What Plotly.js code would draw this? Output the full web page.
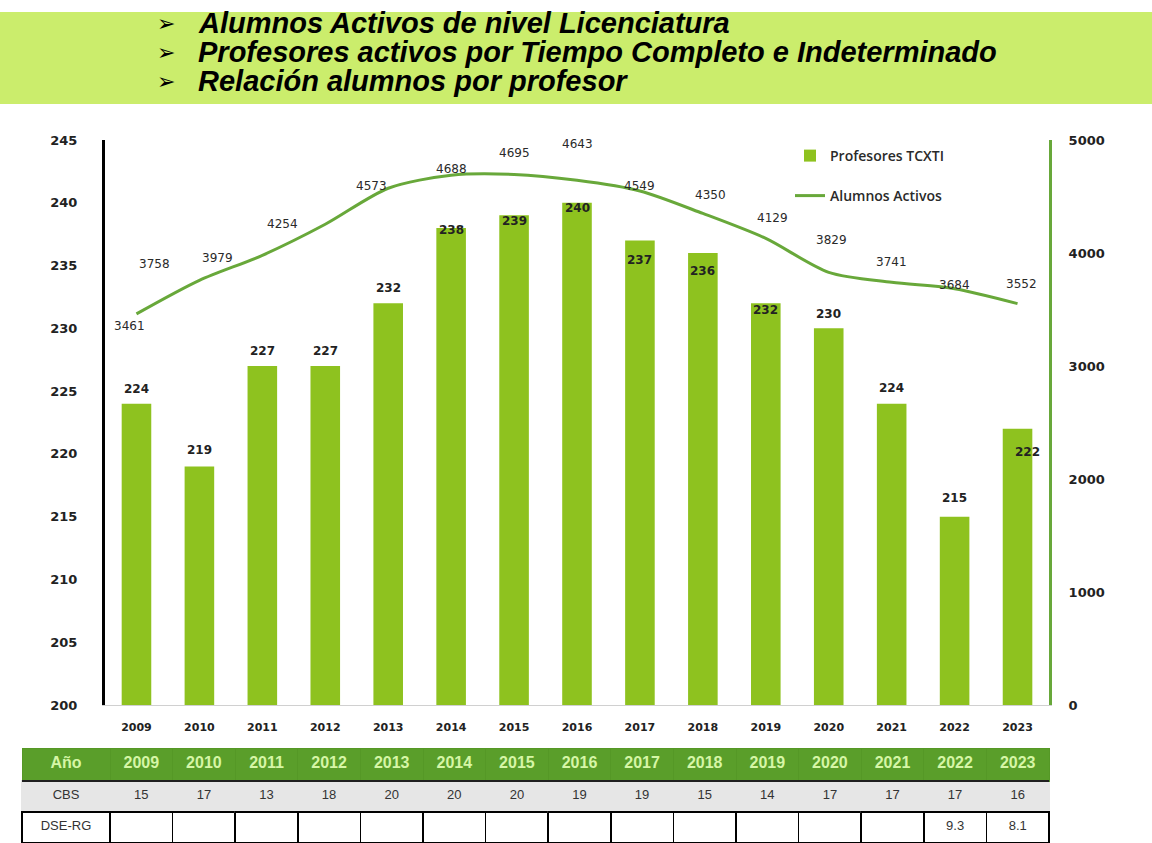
<!DOCTYPE html>
<html>
<head>
<meta charset="utf-8">
<script src="https://cdn.plot.ly/plotly-3.0.1.min.js"></script>
<style>
  html, body { margin: 0; padding: 0; background: #ffffff; }
  #chart { width: 1152px; height: 843px; }
</style>
</head>
<body>
<div id="chart"></div>
<script>
// ---------- data ----------
const years = ["2009","2010","2011","2012","2013","2014","2015","2016","2017","2018","2019","2020","2021","2022","2023"];
const profesores = [224, 219, 227, 227, 232, 238, 239, 240, 237, 236, 232, 230, 224, 215, 222];
const alumnos = [3461, 3758, 3979, 4254, 4573, 4688, 4695, 4643, 4549, 4350, 4129, 3829, 3741, 3684, 3552];
const cbs = [15, 17, 13, 18, 20, 20, 20, 19, 19, 15, 14, 17, 17, 17, 16];
const dseRg = ["", "", "", "", "", "", "", "", "", "", "", "", "", "9.3", "8.1"];
const headerLines = [
  "Alumnos Activos de nivel Licenciatura",
  "Profesores activos por Tiempo Completo e Indeterminado",
  "Relación alumnos por profesor"
];
const tableRowLabels = ["CBS", "DSE-RG"];
const tableCornerLabel = "Año";

// ---------- label placement (style only, pixel offsets) ----------
const barLabelDy = [15, 16, 15, 15, 15, -2, -6, -5, -20, -18, -7, 14, 16, 19, -23];
const barLabelDx = [0, 0, 0, 0, 0, 0, 0, 0, 0, 0, 0, 0, 0, 0, 10];
const lineLabelDx = [-7, -45, -45, -43, -17, 0, 0, 0, 0, 8, 7, 3, 0, 0, 4];
const lineLabelDy = [-12, 16, -3, 0, 2, 6, 21, 36, 5, 18, 20, 32, 20, 4, 20];

// ---------- canvas geometry ----------
const W = 1152, H = 843;
const px = v => v / W;
const py = v => 1 - v / H;

const BAR_COLOR = "#8ec21f";
const LINE_COLOR = "#68a83a";

const traces = [
  {
    type: "bar",
    name: "Profesores TCXTI",
    x: years,
    y: profesores,
    marker: { color: BAR_COLOR },
    xaxis: "x",
    yaxis: "y",
    legend: "legend"
  },
  {
    type: "scatter",
    mode: "lines",
    name: "Alumnos Activos",
    x: years,
    y: alumnos,
    line: { color: LINE_COLOR, width: 3, shape: "spline", smoothing: 0.8 },
    xaxis: "x",
    yaxis: "y2",
    legend: "legend2"
  },
  {
    type: "table",
    domain: { x: [px(22), px(1049)], y: [0, (H - 748) / H] },
    columnwidth: [88].concat(years.map(() => 62.6)),
    header: {
      values: [tableCornerLabel].concat(years),
      height: 33,
      align: "center",
      fill: { color: "#5a9e2a" },
      line: { color: "#559826", width: 1 },
      font: { family: "Liberation Sans, Arial, sans-serif", size: 16, color: "#d6f6a6", weight: "bold" }
    },
    cells: {
      values: [tableRowLabels].concat(years.map((y, i) => [String(cbs[i]), dseRg[i]])),
      height: 31,
      align: "center",
      fill: { color: [tableRowLabels].concat(years).map(() => ["#e6e6e6", "#ffffff"]) },
      line: { color: [tableRowLabels].concat(years).map(() => ["#e6e6e6", "#000000"]), width: 1.5 },
      font: { family: "Liberation Sans, Arial, sans-serif", size: 13, color: "#333333" }
    }
  }
];

const annotations = [];

// header lines
headerLines.forEach((t, i) => {
  const yc = [23, 52, 81][i];
  annotations.push({
    xref: "paper", yref: "paper", x: px(166), y: py(yc), xanchor: "center", yanchor: "middle",
    text: "➢", showarrow: false,
    font: { family: "DejaVu Sans, sans-serif", size: 22, color: "#000000", weight: "bold" }
  });
  annotations.push({
    xref: "paper", yref: "paper", x: px(196), y: py(yc), xanchor: "left", yanchor: "middle",
    text: t, showarrow: false,
    font: { family: "Liberation Sans, Arial, sans-serif", size: 29, color: "#000000", weight: "bold", style: "italic" }
  });
});

// bar value labels
years.forEach((yr, i) => {
  annotations.push({
    xref: "x", yref: "y", x: i, y: profesores[i], xanchor: "center", yanchor: "middle",
    xshift: barLabelDx[i], yshift: barLabelDy[i],
    text: String(profesores[i]), showarrow: false,
    font: { family: "DejaVu Sans, sans-serif", size: 12, color: "#222222", weight: "bold" }
  });
});

// line value labels
years.forEach((yr, i) => {
  annotations.push({
    xref: "x", yref: "y2", x: i, y: alumnos[i], xanchor: "center", yanchor: "middle",
    xshift: lineLabelDx[i], yshift: lineLabelDy[i],
    text: String(alumnos[i]), showarrow: false,
    font: { family: "DejaVu Sans, sans-serif", size: 12, color: "#2a2a2a" }
  });
});

const layout = {
  width: W, height: H,
  margin: { l: 0, r: 0, t: 0, b: 0, pad: 0 },
  paper_bgcolor: "#ffffff",
  plot_bgcolor: "#ffffff",
  showlegend: true,
  bargap: 0.53,
  xaxis: {
    type: "category",
    categoryorder: "array", categoryarray: years,
    range: [-0.5, years.length - 0.5], autorange: false,
    domain: [px(105), px(1049)],
    anchor: "y",
    showline: true, linecolor: "#d0d0d0", linewidth: 1,
    ticks: "", showgrid: false, zeroline: false,
    ticklabelstandoff: 12,
    tickfont: { family: "DejaVu Sans, sans-serif", size: 11, color: "#222222", weight: "bold" }
  },
  yaxis: {
    domain: [(H - 705) / H, (H - 140) / H],
    range: [200, 245], autorange: false, dtick: 5, tick0: 200,
    showline: true, linecolor: "#000000", linewidth: 3,
    ticks: "", showgrid: false, zeroline: false,
    ticklabelstandoff: 22,
    tickfont: { family: "DejaVu Sans, sans-serif", size: 13, color: "#222222", weight: "bold" }
  },
  yaxis2: {
    overlaying: "y", side: "right", anchor: "x",
    range: [0, 5000], autorange: false, dtick: 1000, tick0: 0,
    showline: true, linecolor: LINE_COLOR, linewidth: 3,
    ticks: "", showgrid: false, zeroline: false,
    ticklabelstandoff: 14,
    tickfont: { family: "DejaVu Sans, sans-serif", size: 13, color: "#222222", weight: "bold" }
  },
  legend: {
    x: px(790), y: py(140), xanchor: "left", yanchor: "top",
    bgcolor: "rgba(0,0,0,0)", itemwidth: 30,
    font: { family: "Open Sans, sans-serif", size: 14, color: "#2a2a2a", weight: 600 }
  },
  legend2: {
    x: px(790), y: py(180), xanchor: "left", yanchor: "top",
    bgcolor: "rgba(0,0,0,0)", itemwidth: 30,
    font: { family: "Open Sans, sans-serif", size: 14, color: "#2a2a2a", weight: 600 }
  },
  shapes: [
    {
      type: "rect", xref: "paper", yref: "paper", layer: "below",
      x0: 0, x1: 1, y0: py(104), y1: py(12),
      fillcolor: "#cbed6c", line: { width: 0 }
    },
    {
      type: "line", xref: "paper", yref: "paper", layer: "above",
      x0: px(22), x1: px(1049), y0: py(781), y1: py(781),
      line: { color: "#1f1f1f", width: 2 }
    }
  ],
  annotations: annotations
};

Plotly.newPlot("chart", traces, layout, { displayModeBar: false, staticPlot: true });
</script>
</body>
</html>
